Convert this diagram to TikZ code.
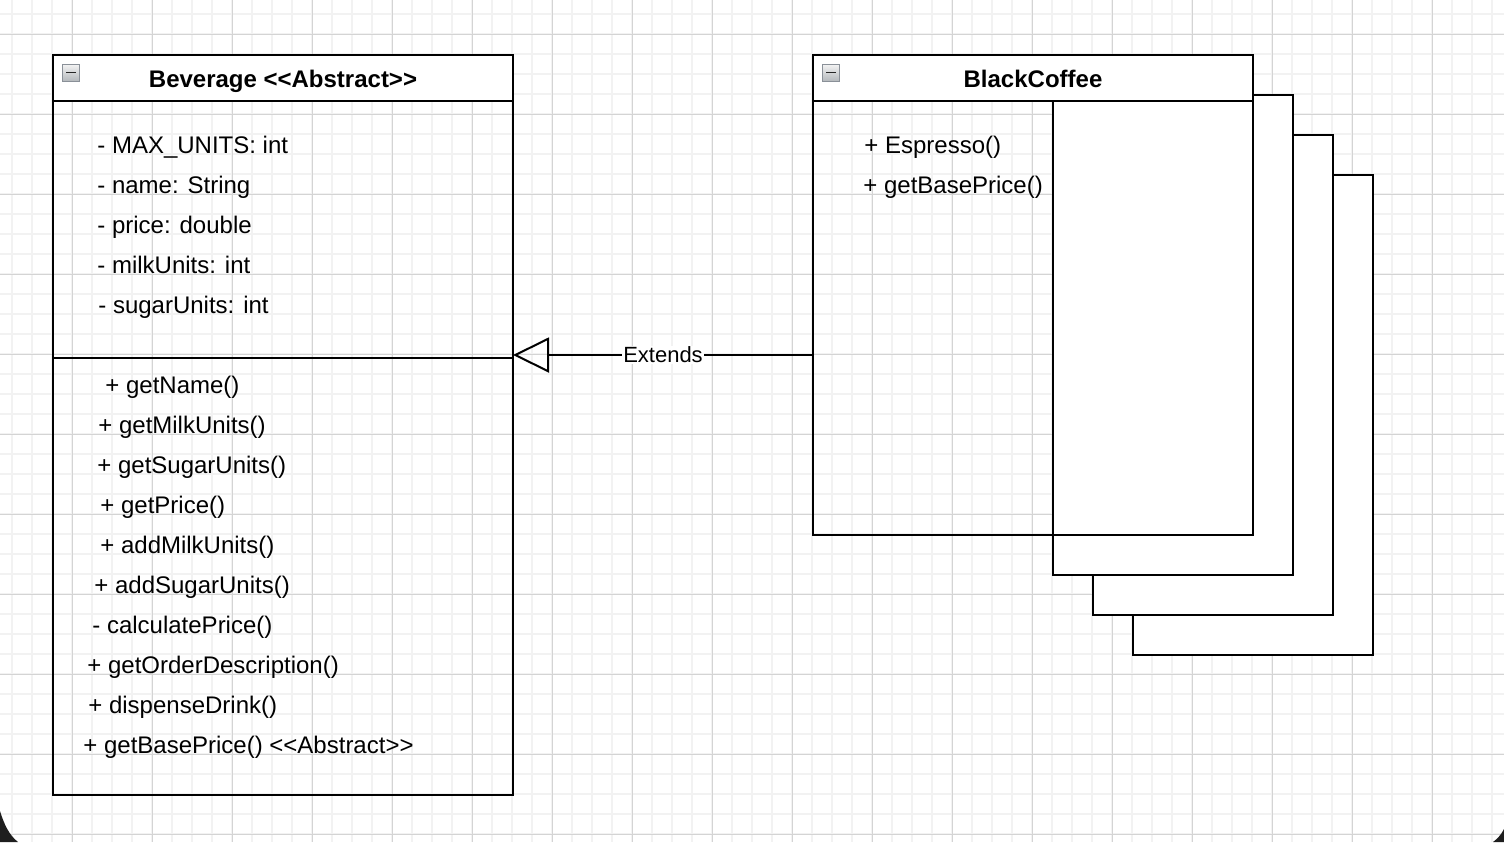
\documentclass[tikz,border=0pt]{standalone}
\usepackage{fontspec}
\newfontfamily\umlfont{Liberation Sans}
\usetikzlibrary{arrows.meta}
\definecolor{gridminor}{HTML}{F2F2F2}
\definecolor{gridmajor}{HTML}{D4D4D4}
\definecolor{iconborder}{HTML}{8A9098}
\definecolor{icontop}{HTML}{F4F4F4}
\definecolor{iconbottom}{HTML}{B4B8BC}
\definecolor{cornerdark}{HTML}{1E1E1E}
\begin{document}
\begin{tikzpicture}[x=0.5pt,y=-0.5pt,
  umlbox/.style={draw, line width=1pt, outer sep=0pt, inner sep=0pt, anchor=north west},
  headbox/.style={umlbox, fill=white, minimum height=23pt},
  stackbox/.style={umlbox, fill=white, minimum width=120pt, minimum height=240pt},
  member/.style={anchor=base west, inner sep=0pt, font=\umlfont\fontsize{12}{14}\selectfont},
  title/.style={anchor=base, inner sep=0pt, font=\umlfont\bfseries\fontsize{12}{14}\selectfont},
  edgelabel/.style={fill=white, inner sep=0.5pt, font=\umlfont\fontsize{11}{13}\selectfont},
  collapse/.style={draw=iconborder, line width=0.5pt, top color=icontop, bottom color=iconbottom,
    minimum size=8.5pt, inner sep=0pt, outer sep=0pt,
    path picture={\draw[black!85, line width=0.7pt]
      ([xshift=-2.4pt]path picture bounding box.center) -- ([xshift=2.4pt]path picture bounding box.center);}},
  extends/.style={line width=1pt, -{Triangle[open, length=18pt, width=17.5pt, line width=1pt]}}
]
% background and grid
\useasboundingbox (0,0) rectangle (1504,842);
\fill[white] (0,0) rectangle (1504,842);
\foreach \gx in {12,32,...,1492} \draw[gridminor, line width=0.75pt] (\gx,0) -- (\gx,842);
\foreach \gy in {14,34,...,834} \draw[gridminor, line width=0.75pt] (0,\gy) -- (1504,\gy);
\foreach \gx in {72,152,...,1432} \draw[gridmajor, line width=0.5pt] (\gx,0) -- (\gx,842);
\foreach \gy in {34,114,...,834} \draw[gridmajor, line width=0.5pt] (0,\gy) -- (1504,\gy);

% window corners
\fill[cornerdark] (0,811) .. controls (4,824) and (9,835) .. (18,842) -- (0,842) -- cycle;
\fill[cornerdark] (1504,829) .. controls (1501,835) and (1497,839) .. (1493,842) -- (1504,842) -- cycle;

% Beverage class
\node[umlbox, minimum width=230pt, minimum height=370pt] (bev) at (53,55) {};
\node[headbox, minimum width=230pt] (bevhead) at (53,55) {};
\coordinate (bevsepy) at (0,358);
\draw[line width=1pt] (bev.west |- bevsepy) -- (bev.east |- bevsepy);
\node[collapse] (bevicon) at (71,72.5) {};
\node[title] (bevtitle) at (283,87) {Beverage <<Abstract>>};

\node[member] (a1) at (97,153) {- MAX\_UNITS: int};
\node[member] (a2) at (97,193) {- name: String};
\node[member] (a3) at (97,233) {- price: double};
\node[member] (a4) at (97,273) {- milkUnits: int};
\node[member] (a5) at (98,313) {- sugarUnits: int};

\node[member] (m1) at (105,393) {+ getName()};
\node[member] (m2) at (98,433) {+ getMilkUnits()};
\node[member] (m3) at (97,473) {+ getSugarUnits()};
\node[member] (m4) at (100,513) {+ getPrice()};
\node[member] (m5) at (100,553) {+ addMilkUnits()};
\node[member] (m6) at (94,593) {+ addSugarUnits()};
\node[member] (m7) at (92,633) {- calculatePrice()};
\node[member] (m8) at (87,673) {+ getOrderDescription()};
\node[member] (m9) at (88,713) {+ dispenseDrink()};
\node[member] (m10) at (83,753) {+ getBasePrice() <<Abstract>>};

% stacked shape behind BlackCoffee
\node[stackbox] (stackc) at (1133,175) {};
\node[stackbox] (stackb) at (1093,135) {};
\node[stackbox] (stacka) at (1053,95) {};

% BlackCoffee class
\node[umlbox, minimum width=220pt, minimum height=240pt] (bc) at (813,55) {};
\node[headbox, minimum width=220pt] (bchead) at (813,55) {};
\node[collapse] (bcicon) at (831,72.5) {};
\node[title] (bctitle) at (1033,87) {BlackCoffee};
\node[member] (b1) at (864,153) {+ Espresso()};
\node[member] (b2) at (863,193) {+ getBasePrice()};

% inheritance connector
\coordinate (exty) at (0,355);
\draw[extends] (bc.west |- exty) -- node[edgelabel] (extlabel) {Extends} (bev.east |- exty);
\end{tikzpicture}
\end{document}
